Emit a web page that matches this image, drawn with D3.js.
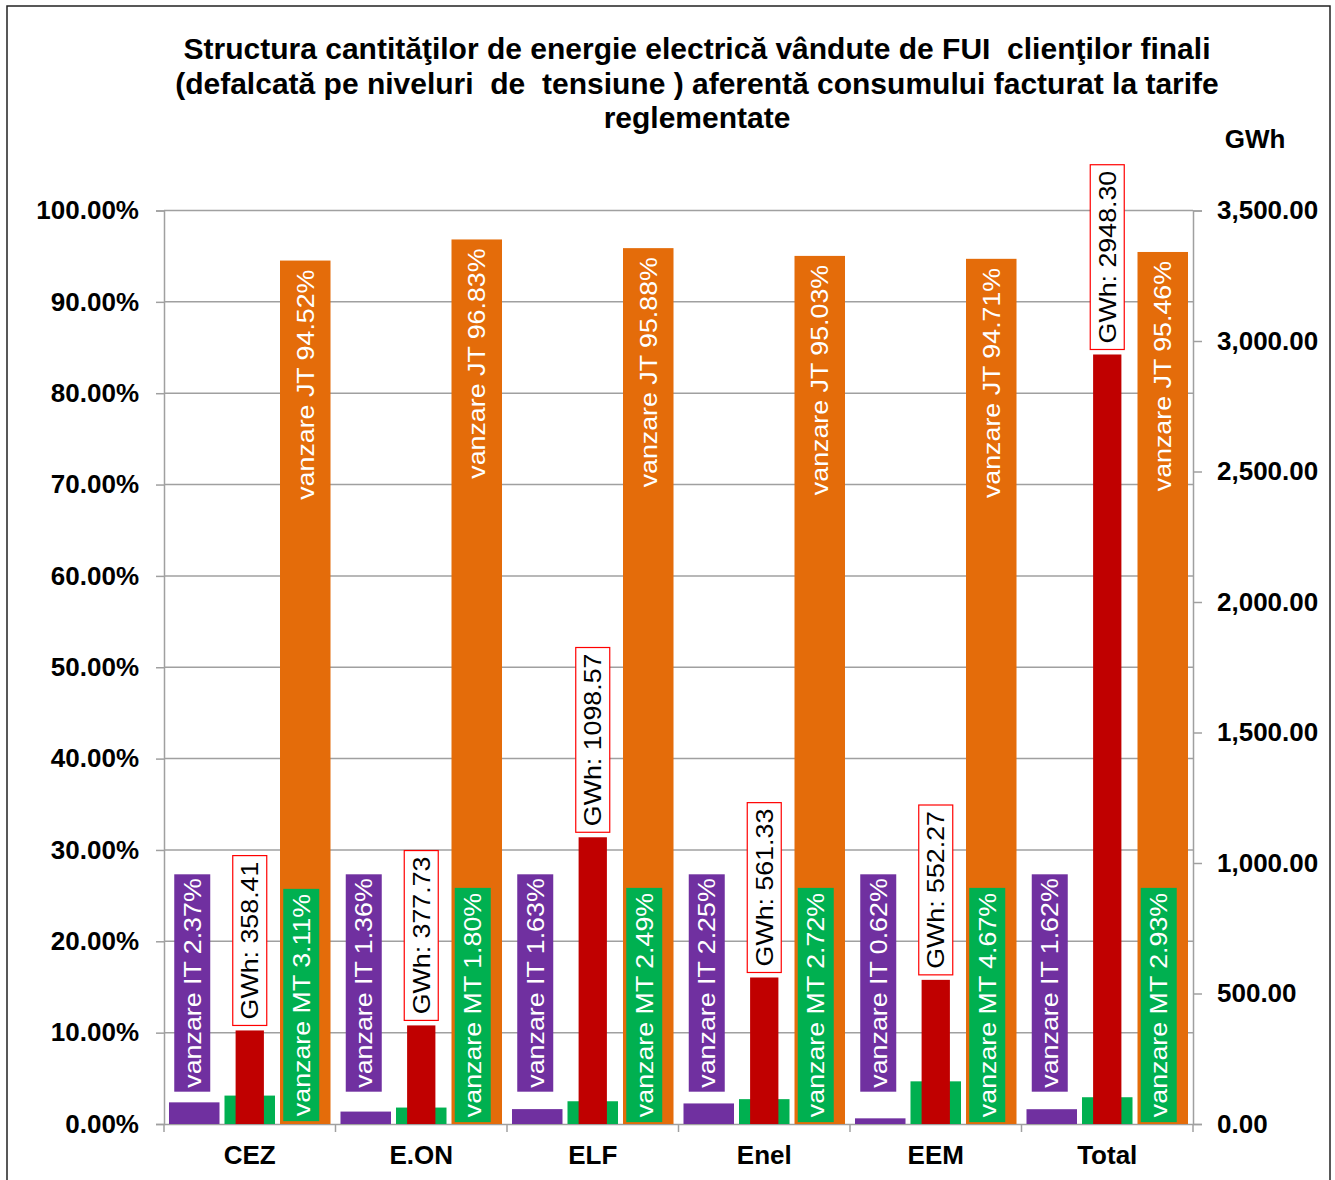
<!DOCTYPE html>
<html>
<head>
<meta charset="utf-8">
<script src="https://cdn.jsdelivr.net/npm/d3@7"></script>
<style>
  body { margin: 0; background: #fff; }
  text { font-family: "Liberation Sans", Arial, sans-serif; }
</style>
</head>
<body>
<div id="chart"></div>
<script>
// values
var categories = ["CEZ", "E.ON", "ELF", "Enel", "EEM", "Total"];
var itPct = [2.37, 1.36, 1.63, 2.25, 0.62, 1.62];
var mtPct = [3.11, 1.80, 2.49, 2.72, 4.67, 2.93];
var jtPct = [94.52, 96.83, 95.88, 95.03, 94.71, 95.46];
var gwh = [358.41, 377.73, 1098.57, 561.33, 552.27, 2948.30];
var pctTicks = [0, 10, 20, 30, 40, 50, 60, 70, 80, 90, 100];
var gwhTicks = [0, 500, 1000, 1500, 2000, 2500, 3000, 3500];
var titleLines = [
  "Structura cantităţilor de energie electrică vândute de FUI  clienţilor finali",
  "(defalcată pe niveluri  de  tensiune ) aferentă consumului facturat la tarife",
  "reglementate"
];
var rightUnit = "GWh";

var colors = { IT: "#7030a0", MT: "#00b050", JT: "#e46c0a", GWh: "#c00000" };
var gridColor = "#a0a0a0";
var labelFont = 23.5, labelStretch = 1.14;

var W = 1335, H = 1180;
var plotL = 164, plotR = 1193, plotT = 210.5, plotB = 1124;

var svg = d3.select("#chart").append("svg")
  .attr("width", W).attr("height", H)
  .style("display", "block");

svg.append("rect").attr("x", 7).attr("y", 6).attr("width", 1323).attr("height", 1190)
  .attr("fill", "#fff").attr("stroke", "#222").attr("stroke-width", 1.5);

// title (keeps the double spaces)
svg.append("g").selectAll("text").data(titleLines).enter().append("text")
  .attr("x", 697).attr("y", function(d, i) { return 59 + i * 34.5; })
  .attr("text-anchor", "middle")
  .style("white-space", "pre")
  .style("font-size", "30px").style("font-weight", "bold")
  .text(function(d) { return d; });

svg.append("text").attr("x", 1255).attr("y", 148).attr("text-anchor", "middle")
  .style("font-size", "26px").style("font-weight", "bold").text(rightUnit);

// scales
var x0 = d3.scaleBand().domain(categories).range([plotL, plotR]).padding(0);
var x1 = d3.scaleBand().domain(["IT", "MT", "JT"]).range([0, x0.bandwidth()])
  .paddingInner(0.09).paddingOuter(0.09);
var y = d3.scaleLinear().domain([0, 100]).range([plotB, plotT]);
var y2 = d3.scaleLinear().domain([0, 3500]).range([plotB, plotT]);

// gridlines
svg.append("g").selectAll("line").data(pctTicks.slice(1)).enter().append("line")
  .attr("x1", plotL).attr("x2", plotR)
  .attr("y1", function(d) { return y(d); }).attr("y2", function(d) { return y(d); })
  .attr("stroke", gridColor).attr("stroke-width", 1.5);

// axes
var yAxis = svg.append("g").attr("transform", "translate(" + plotL + ",0)")
  .call(d3.axisLeft(y).tickValues(pctTicks).tickSize(8).tickPadding(17)
    .tickFormat(function(d) { return d.toFixed(2) + "%"; }));
var y2Axis = svg.append("g").attr("transform", "translate(" + plotR + ",0)")
  .call(d3.axisRight(y2).tickValues(gwhTicks).tickSize(9).tickPadding(15)
    .tickFormat(d3.format(",.2f")));
var xAxis = svg.append("g").attr("transform", "translate(0," + plotB + ")")
  .call(d3.axisBottom(x0).tickSize(0).tickPadding(22));

svg.selectAll(".domain").attr("stroke", gridColor).attr("stroke-width", 1.5);
svg.selectAll(".tick line").attr("stroke", gridColor).attr("stroke-width", 1.5);
svg.selectAll(".tick text").attr("fill", "#000")
  .style("font-size", "26px").style("font-weight", "bold")
  .style("font-family", "'Liberation Sans', Arial, sans-serif");
xAxis.selectAll(".tick text").attr("dy", "0.71em");

// category boundary ticks
svg.append("g").selectAll("line").data(categories.concat([null])).enter().append("line")
  .attr("x1", function(d, i) { return plotL + i * x0.step(); })
  .attr("x2", function(d, i) { return plotL + i * x0.step(); })
  .attr("y1", plotB).attr("y2", plotB + 8)
  .attr("stroke", gridColor).attr("stroke-width", 1.5);

// percentage bars (primary axis)
var pctSeries = [
  { key: "IT", values: itPct },
  { key: "MT", values: mtPct },
  { key: "JT", values: jtPct }
];

pctSeries.forEach(function(s) {
  svg.append("g").selectAll("rect").data(s.values).enter().append("rect")
    .attr("x", function(d, i) { return x0(categories[i]) + x1(s.key); })
    .attr("width", x1.bandwidth())
    .attr("y", function(d) { return y(d); })
    .attr("height", function(d) { return plotB - y(d); })
    .attr("fill", colors[s.key]);
});

// GWh bars (secondary axis)
var redW = x0.bandwidth() * 0.165;
svg.append("g").selectAll("rect").data(gwh).enter().append("rect")
  .attr("x", function(d, i) { return x0(categories[i]) + x0.bandwidth() / 2 - redW / 2; })
  .attr("width", redW)
  .attr("y", function(d) { return y2(d); })
  .attr("height", function(d) { return plotB - y2(d); })
  .attr("fill", colors.GWh);

// rotated label helper: draws text at (cx, cy), returns its length on screen
function rotLabel(g, cx, cy, txt, fill, anchor) {
  var t = g.append("text")
    .attr("transform", "translate(" + cx + "," + cy + ") rotate(-90) scale(" + labelStretch + ",1)")
    .attr("text-anchor", anchor || "middle")
    .attr("dy", "0.36em")
    .attr("fill", fill)
    .style("font-size", labelFont + "px")
    .text(txt);
  return t.node().getComputedTextLength() * labelStretch;
}

var boxW = 36;

// IT labels: purple boxes
var itG = svg.append("g");
itPct.forEach(function(v, i) {
  var cx = x0(categories[i]) + x1("IT") + x1.bandwidth() / 2 - 2;
  var cy = plotB - 141;
  var box = itG.append("rect").attr("fill", colors.IT);
  var len = rotLabel(itG, cx, cy, "vanzare IT " + v.toFixed(2) + "%", "#fff");
  box.attr("x", cx - boxW / 2).attr("width", boxW)
    .attr("y", cy - len / 2 - 4).attr("height", len + 8);
});

// MT labels: green boxes laid over the orange bars
var mtG = svg.append("g");
mtPct.forEach(function(v, i) {
  var cx = x0(categories[i]) + x1("JT") + x1.bandwidth() / 2 - 4;
  var cy = plotB - 119;
  var box = mtG.append("rect").attr("fill", colors.MT);
  var len = rotLabel(mtG, cx, cy, "vanzare MT " + v.toFixed(2) + "%", "#fff");
  box.attr("x", cx - boxW / 2).attr("width", boxW)
    .attr("y", cy - len / 2 - 5).attr("height", len + 10);
});

// JT labels: text inside the top of the orange bars
var jtG = svg.append("g");
jtPct.forEach(function(v, i) {
  var cx = x0(categories[i]) + x1("JT") + x1.bandwidth() / 2;
  rotLabel(jtG, cx, y(v) + 9, "vanzare JT " + v.toFixed(2) + "%", "#fff", "end");
});

// GWh labels: white boxes with red border above the red bars
var gG = svg.append("g");
gwh.forEach(function(v, i) {
  var cx = x0(categories[i]) + x0.bandwidth() / 2;
  var box = gG.append("rect").attr("fill", "#fff").attr("stroke", "#ff0000").attr("stroke-width", 1.2);
  var t = gG.append("text")
    .attr("text-anchor", "end").attr("dy", "0.36em")
    .style("font-size", labelFont + "px")
    .attr("fill", "#000")
    .text("GWh: " + v.toFixed(2));
  var len = t.node().getComputedTextLength() * labelStretch;
  var boxBottom = y2(v) - 5;
  var textBottom = boxBottom - 6;
  t.attr("transform", "translate(" + cx + "," + (textBottom - len) + ") rotate(-90) scale(" + labelStretch + ",1)");
  box.attr("x", cx - 17).attr("width", 34)
    .attr("y", textBottom - len - 6).attr("height", len + 12);
});
</script>
</body>
</html>
